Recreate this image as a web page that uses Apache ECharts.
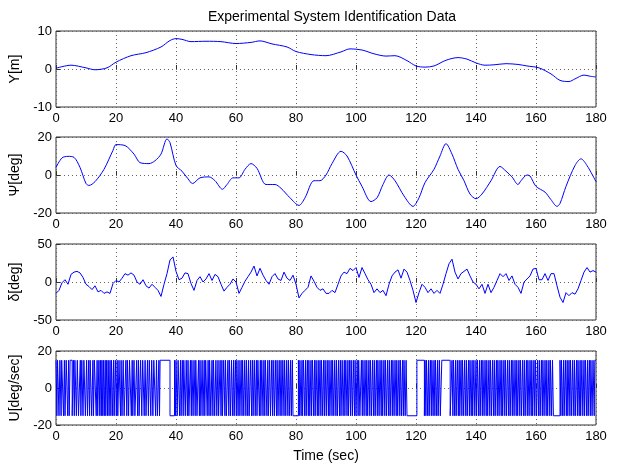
<!DOCTYPE html>
<html>
<head>
<meta charset="utf-8">
<title>Experimental System Identification Data</title>
<script src="https://cdn.jsdelivr.net/npm/echarts@6/dist/echarts.min.js"></script>
<style>
  html, body { margin: 0; padding: 0; background: #fff; }
  #chart { width: 618px; height: 464px; }
</style>
</head>
<body>
<div id="chart"></div>
<script>
// x ticks shared by every panel
var xTicks = [0, 20, 40, 60, 80, 100, 120, 140, 160, 180];

// Y[m] - lateral position
var yT = [0, 5, 10, 13, 17, 20, 25, 30, 35, 38, 40, 42, 45, 50, 55, 60, 65, 68, 72, 77,
          80, 85, 90, 95, 98, 102, 106, 110, 113, 117, 120, 123, 126, 130, 134, 137, 140,
          143, 146, 150, 154, 157, 161, 165, 168, 171, 173, 176, 178, 180];
var yV = [0.2, 1.0, 0.3, -0.2, 0.3, 1.8, 3.5, 4.3, 5.8, 7.5, 8.0, 7.8, 7.2, 7.3, 7.2, 6.7, 7.0, 7.4, 6.6, 5.8,
          4.6, 3.8, 3.5, 4.5, 5.3, 5.0, 4.0, 3.4, 3.5, 2.2, 0.8, 0.5, 0.8, 2.3, 3.0, 2.6, 1.6,
          1.0, 1.1, 1.4, 1.2, 0.8, 0.3, -1.3, -3.0, -3.3, -2.6, -1.6, -1.9, -2.1];

// Psi[deg] - heading
var psiT = [0, 2, 4, 6, 8, 10, 11, 13, 16, 19, 20, 23, 26, 28, 31, 33, 35, 37, 38, 40,
            42, 44, 45.5, 48, 51, 53, 55.5, 57, 59, 61, 63, 65, 67, 70, 73, 75, 78, 81, 83, 86,
            88, 90, 92, 95, 97, 100, 102, 105, 107, 109, 111, 113, 116, 119, 121, 123, 126, 128, 130, 132,
            134, 136, 138, 140, 142, 145, 148, 150, 152, 154, 155, 157, 158, 160, 163, 165, 167, 168, 170, 173,
            175, 177, 180];
var psiV = [4, 9, 9.8, 9.3, 4, -4.5, -5.5, -3.5, 3, 13, 16, 15.5, 11, 6.5, 6, 7.5, 11, 19, 17, 5,
            2, -2, -4.5, -1.5, -1, -3, -7.5, -5, -1.5, -1.5, 3, 6, 3.5, -5, -5, -7, -12, -16, -12, -3,
            -3, 0, 6, 12.5, 10, 0, -6, -14, -12, -5, 0, -3, -11, -16.5, -12, -4, 3, 10, 16.5, 11,
            3, -3, -10, -12.5, -10, -3, 4.5, 2, -1, -5, -3, 0, -0.5, -6, -9, -13, -16.5, -15, -6, 5,
            8.5, 5, -3.5];

// delta[deg] - rudder angle, one value per second from 0 to 180
var deltaV = [-15, -11, -1, 3, -3, 10, 13, 14, 12, 6,
              -3, -6, -10, -5, -13, -11, -15, -13, -15, -2,
              2, 0, 5, 11, 9, 12, 9, 0, -3, 3,
              -5, -8, -3, -7, -11, -19, -3, 11, 29, 33,
              14, 3, 5, 12, 11, -2, -11, 2, 7, 0,
              4, 11, 2, 10, 7, -3, -12, -7, -3, 4,
              0, -15, -7, 1, 7, 13, 21, 8, 18, 9,
              2, -3, 7, 11, 4, 2, 13, 5, 2, 9,
              -3, -21, -15, -11, -7, 8, 1, -7, -11, -9,
              -15, -15, -11, -14, -3, 8, 13, 11, 18, 15,
              19, 6, 19, 11, 3, -3, -14, -9, -14, -11,
              -18, -3, 8, 13, 16, 5, 17, 13, 2, -11,
              -27, -14, -3, -7, -14, -9, -15, -11, -15, -3,
              11, 24, 30, 13, 4, 11, 14, 17, 8, 0,
              -3, -9, -3, -15, -3, -14, -7, 2, 11, 7,
              11, 2, 8, -3, -7, -15, 0, 4, 8, 17,
              18, 3, 3, 11, 2, 11, 11, -5, -20, -27,
              -14, -18, -14, -16, -9, 2, 13, 19, 13, 15, 13];

// U[deg/sec] - binary input, level flips at each switch time
var uLevel = 15;
var uSwitch = [
  0.3, 0.5, 1.0, 1.3, 1.7, 1.9, 2.5, 2.8, 3.0, 3.4, 3.9, 4.2, 4.4, 4.7, 5.4, 5.8, 6.1, 6.3, 6.8, 7.1,
  7.5, 8.1, 8.3, 8.6, 9.0, 9.3, 9.8,
  10.2, 10.5, 10.9, 11.2, 11.4, 11.9, 12.3, 12.5, 12.8, 13.4, 13.7, 13.9, 14.3, 14.6, 14.8, 15.1, 15.3,
  15.6, 15.8, 16.1, 16.4, 16.6, 16.9, 17.2, 17.4, 17.7, 18.0, 18.3, 18.5, 18.9, 19.2, 19.4, 19.8,
  20.1, 20.4, 20.6, 21.0, 21.5, 21.7, 22.0, 22.4, 22.7, 23.3, 23.6, 23.8, 24.2, 24.5, 25.1, 25.4, 25.6,
  26.0, 26.3, 26.9, 27.2, 27.5, 27.7, 28.2, 28.6, 28.9, 29.4, 29.7, 30.0, 30.5, 30.8, 31.1, 31.6, 31.9,
  32.3, 32.6, 33.2, 33.5, 33.8, 34.3, 34.5, 34.7, 38.0, 39.5,
  39.8, 40.0, 40.4, 40.7, 41.2, 41.5, 41.7, 42.1, 42.4, 42.6, 43.1, 43.4, 43.8, 44.0, 44.3, 44.8, 45.1,
  45.3, 45.7, 46.0, 46.4, 46.6, 47.0, 47.5, 47.8, 48.0, 48.3, 48.7, 49.0, 49.4, 49.6, 49.9, 50.4, 50.7,
  51.0, 51.2, 51.6, 52.0, 52.3, 52.5, 52.9, 53.3, 53.6, 54.0, 54.2, 54.7, 55.0, 55.3, 55.5, 55.9, 56.3,
  56.5, 56.8, 57.3, 57.6, 57.8, 58.2, 58.5, 58.9, 59.2, 59.4, 59.8, 60.1, 60.3, 60.7, 61.0, 61.3, 61.7,
  62.0, 62.2, 62.6, 62.9, 63.3, 63.5, 63.9, 64.2, 64.4, 64.9, 65.2, 65.5, 65.7, 66.1, 66.4, 66.8, 67.0,
  67.3, 67.8, 68.1, 68.3, 68.6, 69.0, 69.3, 69.6, 69.8, 70.3, 70.6, 70.8, 71.2, 71.5, 71.9, 72.2, 72.4,
  72.8, 73.1, 73.5, 73.7, 74.0, 74.4, 74.7, 75.0, 75.3, 75.6, 76.0, 76.2, 76.6, 76.9, 77.3, 77.5, 77.9,
  78.2, 78.5, 78.8, 79.0, 80.8,
  81.1, 81.3, 81.7, 82.0, 82.2, 82.5, 82.9, 83.2, 83.4, 83.8, 84.1, 84.3, 84.6, 85.0, 85.2, 85.5, 85.9,
  86.2, 86.4, 86.7, 87.1, 87.4, 87.6, 88.0, 88.3, 88.5, 88.9, 89.2, 89.5, 89.7, 90.1, 90.4, 90.8, 91.0,
  91.3, 91.7, 92.0, 92.2, 92.6, 92.9, 93.3, 93.5, 93.8, 94.2, 94.5, 94.8, 95.0, 95.4, 95.7, 96.1, 96.3,
  96.6, 97.0, 97.3, 97.5, 97.9, 98.2, 98.4, 98.8, 99.1, 99.5, 99.7, 100.0, 100.4, 100.7, 100.9, 101.3,
  101.8, 102.1, 102.3, 102.7, 103.0, 103.4, 103.6, 103.9, 104.3, 104.6, 104.8, 105.2, 105.5, 105.9,
  106.1, 106.4, 106.8, 107.1, 107.3, 107.7, 108.0, 108.4, 108.6, 108.9, 109.3, 109.6, 109.8, 110.2,
  110.5, 110.9, 111.1, 111.4, 111.8, 112.1, 112.3, 112.7, 113.0, 113.4, 113.6, 113.9, 114.3, 114.6,
  114.8, 115.2, 115.5, 115.8, 116.0, 116.4, 116.7, 117.0, 120.3, 122.8,
  123.0, 123.3, 123.5, 123.9, 124.2, 124.4, 124.8, 125.1, 125.3, 125.7, 126.0, 126.3, 126.5, 126.9,
  127.2, 127.4, 127.8, 128.1, 128.6, 131.4, 132.0,
  132.3, 132.5, 132.9, 133.2, 133.4, 133.8, 134.1, 134.4, 134.6, 135.0, 135.3, 135.5, 135.9, 136.2,
  136.6, 136.8, 137.1, 137.5, 137.8, 138.0, 138.4, 138.7, 138.9, 139.3, 139.6, 140.0, 140.2, 140.5,
  140.9, 141.2, 141.4, 141.8, 142.1, 142.3, 142.7, 143.0, 143.4, 143.6, 143.9, 144.3, 144.6, 144.8,
  145.2, 145.5, 145.9, 146.1, 146.4, 146.8, 147.1, 147.3, 147.7, 148.0, 148.4, 148.6, 148.9, 149.3,
  149.6, 149.8, 150.2, 150.5, 150.9, 151.1, 151.4, 151.8, 152.1, 152.3, 152.7, 153.0, 153.4, 153.6,
  153.9, 154.3, 154.6, 154.8, 155.2, 155.5, 155.9, 156.1, 156.4, 156.8, 157.1, 157.3, 157.7, 158.0,
  158.4, 158.6, 158.9, 159.3, 159.6, 159.8, 160.2, 160.5, 160.9, 161.1, 161.4, 161.8, 162.1, 162.3,
  162.7, 163.0, 163.4, 163.6, 163.9, 164.3, 164.6, 164.8, 165.2, 165.5, 165.8, 168.0,
  168.3, 168.5, 168.9, 169.2, 169.4, 169.8, 170.1, 170.4, 170.6, 171.0, 171.3, 171.5, 171.9, 172.2,
  172.6, 172.8, 173.1, 173.5, 173.8, 174.0, 174.4, 174.7, 174.9, 175.3, 175.6, 176.0, 176.2, 176.5,
  176.9, 177.2, 177.4, 177.8, 178.1, 178.3, 178.7, 179.0, 179.4, 179.6];

var yLabels = ['Y[m]', 'Ψ[deg]', 'δ[deg]', 'U[deg/sec]'];
var yLimits = [[-10, 10, 10], [-20, 20, 20], [-50, 50, 50], [-20, 20, 20]];

// build point lists
function pairs(t, v) {
    var out = [];
    for (var i = 0; i < t.length; i++) out.push([t[i], v[i]]);
    return out;
}
var deltaData = deltaV.map(function (v, i) { return [i, v]; });
var uData = [[0, uLevel]];
var lvl = uLevel;
uSwitch.forEach(function (t) { lvl = -lvl; uData.push([t, lvl]); });
uData.push([180, lvl]);

var font = 'Liberation Sans, Arial, Helvetica, sans-serif';
var tops = [31, 137, 244, 351];
var heights = [76, 76, 76, 79];

var grids = [], xAxes = [], yAxes = [];
for (var k = 0; k < 4; k++) {
    grids.push({
        left: 56, right: 22, top: tops[k], height: heights[k],
        show: true, borderColor: '#333', borderWidth: 1, backgroundColor: '#fff'
    });
    xAxes.push({
        gridIndex: k, type: 'value', min: 0, max: 180, interval: 20,
        axisLine: { show: false },
        axisTick: { show: true, inside: true, length: 4, lineStyle: { color: '#333' } },
        axisLabel: { color: '#000', fontFamily: font, fontSize: 13, margin: 5,
            formatter: function (v) { return xTicks.indexOf(v) >= 0 ? String(v) : ''; } },
        splitLine: { show: true, lineStyle: { type: [1, 3], color: '#666', width: 1 } },
        name: k === 3 ? 'Time (sec)' : '', nameLocation: 'middle', nameGap: 24,
        nameTextStyle: { color: '#000', fontFamily: font, fontSize: 14 }
    });
    yAxes.push({
        gridIndex: k, type: 'value', min: yLimits[k][0], max: yLimits[k][1], interval: yLimits[k][2],
        axisLine: { show: false },
        axisTick: { show: true, inside: true, length: 4, lineStyle: { color: '#333' } },
        axisLabel: { color: '#000', fontFamily: font, fontSize: 13, margin: 4 },
        splitLine: { show: true, lineStyle: { type: [1, 3], color: '#666', width: 1 } },
        name: yLabels[k], nameLocation: 'middle', nameGap: 27,
        nameTextStyle: { color: '#000', fontFamily: font, fontSize: 14 }
    });
}

var lineStyle = { color: '#0000ff', width: 1 };
var chart = echarts.init(document.getElementById('chart'), null, { renderer: 'canvas' });
chart.setOption({
    animation: false,
    backgroundColor: '#fff',
    title: {
        text: 'Experimental System Identification Data',
        left: 327, top: 5, textAlign: 'center',
        textStyle: { color: '#000', fontFamily: font, fontSize: 14, fontWeight: 'normal' }
    },
    grid: grids,
    xAxis: xAxes,
    yAxis: yAxes,
    series: [
        { type: 'line', xAxisIndex: 0, yAxisIndex: 0, data: pairs(yT, yV), smooth: 0.3,
          showSymbol: false, lineStyle: lineStyle, silent: true },
        { type: 'line', xAxisIndex: 1, yAxisIndex: 1, data: pairs(psiT, psiV), smooth: 0.3,
          showSymbol: false, lineStyle: lineStyle, silent: true },
        { type: 'line', xAxisIndex: 2, yAxisIndex: 2, data: deltaData,
          showSymbol: false, lineStyle: lineStyle, silent: true },
        { type: 'line', xAxisIndex: 3, yAxisIndex: 3, data: uData, step: 'end',
          showSymbol: false, lineStyle: lineStyle, silent: true, sampling: null }
    ]
});
</script>
</body>
</html>
